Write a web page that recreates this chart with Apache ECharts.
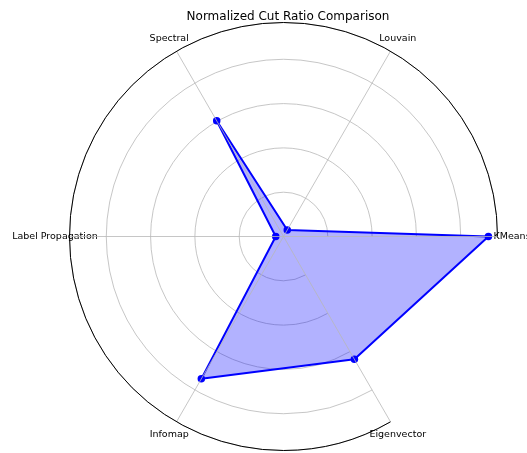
<!DOCTYPE html>
<html>
<head>
<meta charset="utf-8">
<script src="https://cdn.jsdelivr.net/npm/echarts@6/dist/echarts.min.js"></script>
<style>
  html, body { margin: 0; padding: 0; background: #fff; }
  #chart { width: 527px; height: 453px; }
</style>
</head>
<body>
<div id="chart"></div>
<script>
// values
const categories = ['KMeans', 'Louvain', 'Spectral', 'Label Propagation', 'Infomap', 'Eigenvector'];
const cutRatio = [0.925, 0.034, 0.603, 0.035, 0.742, 0.64];
const radiusMax = 0.966;
const radiusStep = 0.2;

const pointData = cutRatio.map((v, i) => [v, i]);

// category names sit a little outside the outer ring, centred on their spoke
const labelRadius = radiusMax * 1.068;
const labelData = categories.map((c, i) => [labelRadius, i]);

const grid = '#b8b8b8';
const font = 'DejaVu Sans';

const chart = echarts.init(document.getElementById('chart'));

const option = {
  animation: false,
  title: {
    text: 'Normalized Cut Ratio Comparison',
    left: 283,
    top: 6,
    textAlign: 'center',
    textStyle: { fontSize: 12, fontWeight: 'normal', color: '#000', fontFamily: font }
  },
  polar: {
    center: [283.5, 236.5],
    radius: 214
  },
  angleAxis: {
    type: 'category',
    data: categories,
    startAngle: 0,
    clockwise: false,
    boundaryGap: false,
    z: 5,
    axisLine: { lineStyle: { color: '#000', width: 1 } },
    axisTick: { show: false },
    axisLabel: { show: false },
    splitLine: { show: true, lineStyle: { color: grid, width: 0.8 } }
  },
  radiusAxis: {
    min: 0,
    max: radiusMax,
    interval: radiusStep,
    axisLine: { show: false },
    axisTick: { show: false },
    axisLabel: { show: false },
    splitLine: { show: true, lineStyle: { color: grid, width: 0.8 } }
  },
  series: [
    {
      // closed outline with translucent fill
      type: 'custom',
      coordinateSystem: 'polar',
      data: pointData,
      silent: true,
      z: 2,
      renderItem: (params, api) => {
        if (params.dataIndex !== 0) return;
        const points = pointData.map(d => api.coord(d));
        return {
          type: 'polygon',
          shape: { points: points },
          style: {
            fill: 'rgba(0, 0, 255, 0.3)',
            stroke: '#0000ff',
            lineWidth: 2,
            lineJoin: 'round'
          }
        };
      }
    },
    {
      type: 'scatter',
      coordinateSystem: 'polar',
      data: pointData,
      clip: false,
      silent: true,
      symbol: 'circle',
      symbolSize: 7.5,
      itemStyle: { color: '#0000ff', opacity: 1, borderWidth: 0 },
      z: 3
    },
    {
      type: 'scatter',
      coordinateSystem: 'polar',
      data: labelData,
      clip: false,
      silent: true,
      symbolSize: 0.1,
      itemStyle: { color: '#fff', opacity: 1 },
      label: {
        show: true,
        position: 'inside',
        formatter: p => categories[p.dataIndex],
        color: '#000',
        opacity: 1,
        textBorderWidth: 0,
        fontSize: 9.5,
        fontFamily: font
      },
      z: 4
    }
  ]
};

chart.setOption(option);
</script>
</body>
</html>
